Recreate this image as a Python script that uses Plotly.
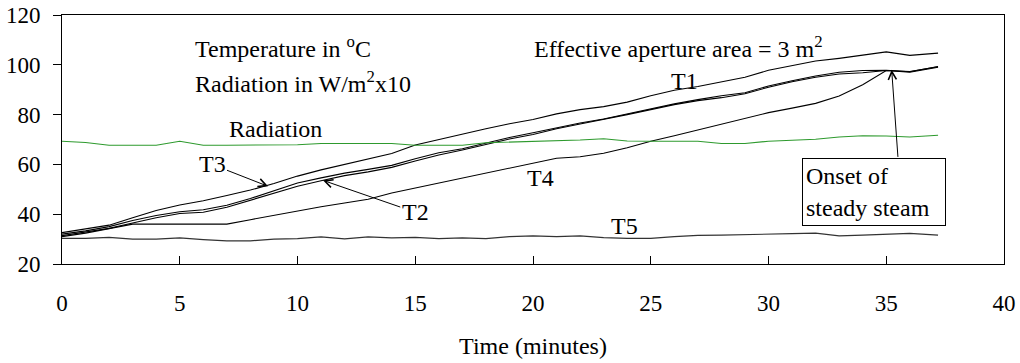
import plotly.graph_objects as go

time_min = [0, 1, 2, 3, 4, 5, 6, 7, 8, 9, 10, 11, 12, 13, 14, 15, 16, 17, 18, 19,
            20, 21, 22, 23, 24, 25, 26, 27, 28, 29, 30, 31, 32, 33, 34, 35, 36, 37.2]

t1 = [32.6, 34.0, 35.6, 38.6, 41.5, 43.7, 45.4, 47.5, 49.7, 52.3, 55.3, 57.8, 60.0, 62.5,
      64.4, 67.8, 70.0, 72.3, 74.3, 76.3, 78.0, 80.3, 82.0, 83.2, 85.0, 87.6, 89.8, 91.3,
      93.2, 95.0, 97.8, 99.8, 101.5, 102.6, 103.8, 105.2, 103.8, 104.7]
t3 = [32.0, 33.3, 35.0, 37.5, 39.5, 41.0, 41.8, 43.6, 46.3, 49.5, 52.5, 54.6, 56.5, 58.0,
      59.6, 62.3, 64.7, 66.3, 68.6, 70.8, 72.7, 74.8, 76.6, 78.2, 80.3, 82.3, 84.3, 86.0,
      87.6, 88.8, 91.5, 93.6, 95.5, 97.0, 97.7, 97.8, 97.2, 99.3]
t2 = [31.4, 32.8, 34.3, 36.5, 38.6, 40.3, 40.8, 42.8, 45.5, 48.5, 51.2, 53.4, 55.5, 57.0,
      58.8, 61.4, 63.8, 65.8, 68.0, 70.2, 72.0, 74.3, 76.2, 78.0, 80.0, 82.0, 84.0, 85.6,
      86.8, 88.4, 91.0, 93.2, 95.0, 96.3, 96.8, 97.7, 97.0, 99.0]
t4 = [31.0, 32.4, 34.2, 36.0, 36.0, 36.0, 36.0, 36.0, 37.8, 39.6, 41.5, 43.0, 44.5, 46.0,
      48.5, 50.5, 52.3, 54.5, 56.5, 58.5, 60.5, 62.5, 63.1, 64.5, 66.7, 69.3, 71.5, 73.8,
      76.0, 78.5, 80.8, 82.6, 84.5, 87.5, 92.0, 97.7, 97.3, 99.2]
t5 = [30.3, 30.3, 30.7, 30.0, 30.0, 30.5, 29.8, 29.3, 29.3, 30.0, 30.2, 30.9, 30.1, 30.9,
      30.5, 30.7, 30.2, 30.5, 30.2, 31.0, 31.3, 31.0, 31.3, 30.6, 30.3, 30.3, 31.0, 31.5,
      31.6, 31.7, 31.9, 32.2, 32.4, 31.3, 31.6, 32.0, 32.3, 31.6]
radiation = [69.3, 68.8, 67.7, 67.7, 67.7, 69.3, 67.7, 67.7, 67.7, 67.7, 67.9, 68.4, 68.4,
             68.4, 68.4, 67.7, 67.7, 67.7, 68.7, 69.0, 69.2, 69.3, 69.8, 70.3, 69.4, 69.3,
             69.3, 69.3, 68.4, 68.4, 69.3, 69.6, 70.1, 71.0, 71.5, 71.4, 71.0, 71.7]

x_ticks = [0, 5, 10, 15, 20, 25, 30, 35, 40]
y_ticks = [20, 40, 60, 80, 100, 120]

FONT = "Liberation Serif, Times New Roman, serif"
FS = 24
TICKFS = 23

fig = go.Figure()
series = [
    ("T1", t1, "#000000"),
    ("T3", t3, "#000000"),
    ("T2", t2, "#000000"),
    ("T4", t4, "#000000"),
    ("T5", t5, "#333333"),
    ("Radiation", radiation, "#2e9a2e"),
]
for name, vals, col in series:
    fig.add_trace(go.Scatter(x=time_min, y=vals, mode="lines", name=name,
                             line=dict(color=col, width=1.1)))

ann = []
def txt(x, y, s, xanchor="center"):
    ann.append(dict(x=x, y=y, xref="x", yref="y", text=s, showarrow=False,
                    xanchor=xanchor, yanchor="middle",
                    font=dict(family=FONT, size=FS, color="#000")))

txt(5.56, 107.2, "Temperature in <sup>o</sup>C", "left")
txt(5.56, 93.0, "Radiation in W/m<sup>2</sup>x10", "left")
txt(19.96, 107.2, "Effective aperture area = 3 m<sup>2</sup>", "left")
txt(9.07, 74.2, "Radiation")
txt(26.45, 93.6, "T1")
txt(20.3, 54.4, "T4")
txt(23.9, 35.2, "T5")

# labels with arrows
ann.append(dict(x=8.75, y=51.2, xref="x", yref="y", text="T3", showarrow=True,
                axref="x", ayref="y", ax=6.37, ay=60.0,
                arrowhead=5, arrowsize=1.6, arrowwidth=1, arrowcolor="#000",
                font=dict(family=FONT, size=FS, color="#000")))
ann.append(dict(x=11.08, y=53.6, xref="x", yref="y", text="T2", showarrow=True,
                axref="x", ayref="y", ax=15.0, ay=40.8,
                arrowhead=5, arrowsize=1.6, arrowwidth=1, arrowcolor="#000",
                font=dict(family=FONT, size=FS, color="#000")))
# onset box
ann.append(dict(x=34.48, y=49.0, xref="x", yref="y",
                text="Onset of<br>steady steam", showarrow=False, align="left",
                xanchor="center", yanchor="middle", width=136, height=60,
                bordercolor="#000", borderwidth=1, borderpad=3, bgcolor="#fff",
                font=dict(family=FONT, size=FS, color="#000")))
ann.append(dict(x=35.23, y=98.0, xref="x", yref="y", text="", showarrow=True,
                axref="x", ayref="y", ax=35.5, ay=62.4,
                arrowhead=5, arrowsize=1.6, arrowwidth=1, arrowcolor="#000"))

fig.update_layout(
    width=1020, height=363,
    margin=dict(l=62, r=16, t=15, b=99),
    paper_bgcolor="#fff", plot_bgcolor="#fff",
    showlegend=False,
    font=dict(family=FONT, size=FS, color="#000"),
    annotations=ann,
    xaxis=dict(range=[0, 40], tickvals=x_ticks, ticks="inside", ticklen=8,
               tickcolor="#000", showline=True, linecolor="#000", linewidth=1,
               mirror=True, showgrid=False, zeroline=False, automargin=False,
               tickfont=dict(family=FONT, size=TICKFS),
               ticklabelstandoff=18,
               title=dict(text="Time (minutes)", standoff=22,
                          font=dict(family=FONT, size=FS))),
    yaxis=dict(range=[20, 120], tickvals=y_ticks, ticks="outside", ticklen=8,
               tickcolor="#000", showline=True, linecolor="#000", linewidth=1,
               mirror=True, showgrid=False, zeroline=False, automargin=False,
               tickfont=dict(family=FONT, size=TICKFS),
               ticklabelstandoff=8),
)

fig.write_html("out.html", config={"displayModeBar": False},
               post_script="document.body.style.margin='0';document.body.style.overflow='hidden';")
